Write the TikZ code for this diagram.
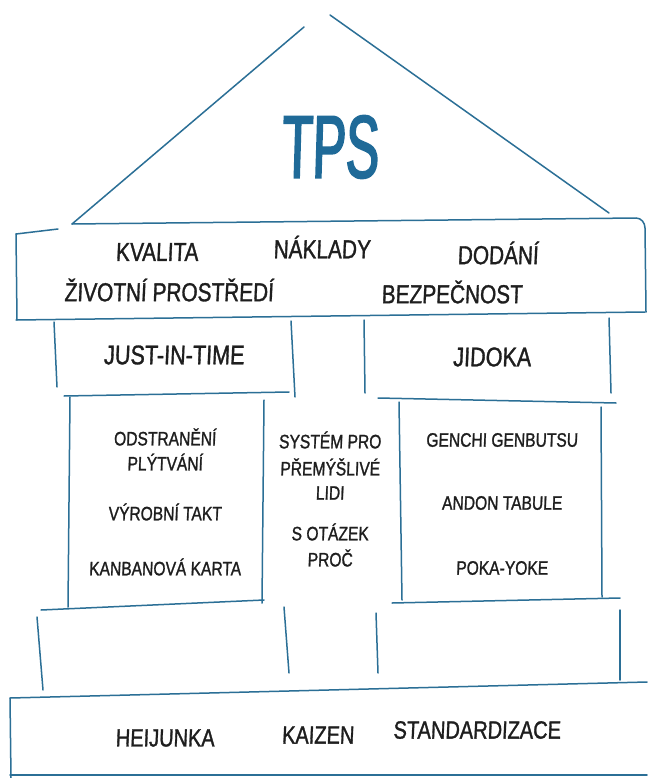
\documentclass[tikz,border=0pt]{standalone}
\usepackage{fontspec}
\newfontfamily\hand[FakeStretch=0.8,FakeBold=1.2,FakeSlant=0.04]{Liberation Sans}
\newfontfamily\tpsfont[FakeStretch=0.56,FakeBold=2,FakeSlant=0.03]{Liberation Sans}
\definecolor{sketch}{HTML}{2B6F96}
\definecolor{tpsblue}{HTML}{1F6A98}
\definecolor{ink}{HTML}{1E1E1E}
\begin{document}
\begin{tikzpicture}[x=1pt,y=-1pt,
  edge/.style={draw=sketch,line width=1.5pt,line cap=round},
  lbl/.style={text=ink,inner sep=0pt,anchor=center},
  toptxt/.style={lbl,font=\hand\fontsize{26}{28}\selectfont},
  pillar/.style={lbl,font=\hand\fontsize{27}{29}\selectfont},
  innertxt/.style={lbl,font=\hand\fontsize{19.5}{21}\selectfont},
  basetxt/.style={lbl,font=\hand\fontsize{25}{27}\selectfont}]
\useasboundingbox (0,0) rectangle (647,778);
\fill[white] (0,0) rectangle (647,778);
% roof
\draw[edge] (72,224) -- (304,27);
\draw[edge] (330,15) -- (609,213);
\node[lbl,text=tpsblue,font=\tpsfont\fontsize{89}{90}\selectfont] (tps) at (330,147) {TPS};
% top box
\draw[edge] (16,234) -- (58,229);
\draw[edge] (72,224) -- (636,218) to[out=0,in=90] (645,228) -- (646,312);
\draw[edge] (16,234) -- (17,320);
\draw[edge] (16,320) -- (645,312);
\node[toptxt] (kval) at (157,252) {KVALITA};
\node[toptxt] (nakl) at (322,247) {NÁKLADY};
\node[toptxt] (dod) at (498,253) {DODÁNÍ};
\node[toptxt] (zp) at (169,290) {ŽIVOTNÍ PROSTŘEDÍ};
\node[toptxt] (bez) at (452,292) {BEZPEČNOST};
% JIT box
\draw[edge] (54,322) -- (57,387);
\draw[edge] (291,321) -- (295,397);
\draw[edge] (64,396) -- (289,392);
\node[pillar] (jit) at (174,355) {JUST-IN-TIME};
% JIDOKA box
\draw[edge] (364,320) -- (365,393);
\draw[edge] (609,318) -- (611,393);
\draw[edge] (378,398) -- (616,403);
\node[pillar] (jid) at (492,357) {JIDOKA};
% inner left
\draw[edge] (70,397) -- (68,607);
\draw[edge] (264,400) -- (262,603);
\node[innertxt] (l1) at (165,437) {ODSTRANĚNÍ};
\node[innertxt] (l2) at (165,462) {PLÝTVÁNÍ};
\node[innertxt] (l3) at (165,512) {VÝROBNÍ TAKT};
\node[innertxt] (l4) at (165,567) {KANBANOVÁ KARTA};
% center
\node[innertxt] (c1) at (330,440) {SYSTÉM PRO};
\node[innertxt] (c2) at (330,467) {PŘEMÝŠLIVÉ};
\node[innertxt] (c3) at (330,493) {LIDI};
\node[innertxt] (c4) at (330,532) {S OTÁZEK};
\node[innertxt] (c5) at (330,558) {PROČ};
% inner right
\draw[edge] (399,402) -- (402,600);
\draw[edge] (601,407) -- (602,597);
\node[innertxt] (r1) at (502,440) {GENCHI GENBUTSU};
\node[innertxt] (r2) at (502,503) {ANDON TABULE};
\node[innertxt] (r3) at (502,568) {POKA-YOKE};
% lower left block
\draw[edge] (41,610) -- (264,600);
\draw[edge] (37,617) -- (43,690);
\draw[edge] (284,607) -- (289,673);
% lower right block
\draw[edge] (392,603) -- (620,598);
\draw[edge] (376,613) -- (378,673);
\draw[edge] (620,610) -- (620,680);
% base
\draw[edge] (10,698) -- (647,682);
\draw[edge] (10,698) -- (11,778);
\draw[edge] (10,775) -- (647,775);
\node[basetxt] (hei) at (165,738) {HEIJUNKA};
\node[basetxt] (kai) at (318,735) {KAIZEN};
\node[basetxt] (std) at (477,730) {STANDARDIZACE};
\end{tikzpicture}
\end{document}
